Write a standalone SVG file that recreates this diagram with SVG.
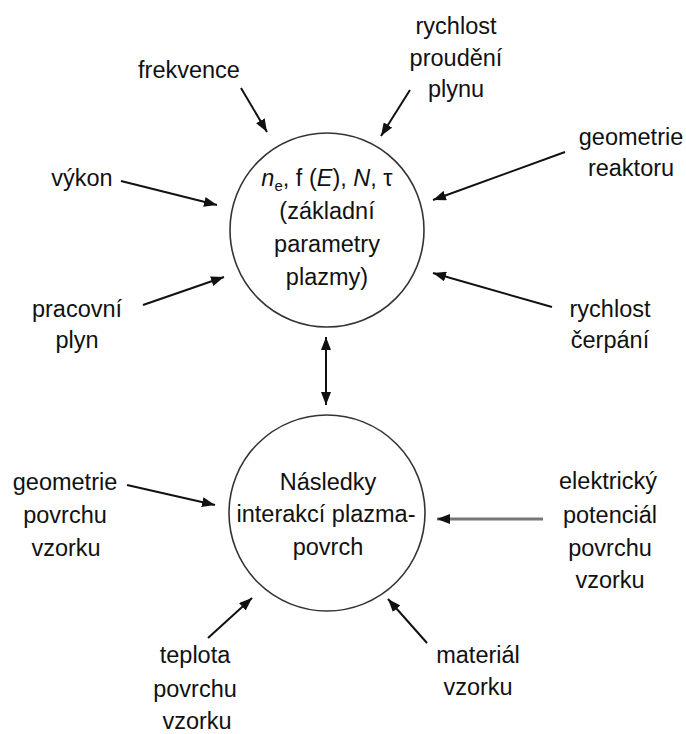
<svg xmlns="http://www.w3.org/2000/svg" width="686" height="734" viewBox="0 0 686 734">
<style>
  .t { font-family: "Liberation Sans", Arial, sans-serif; font-size: 23.5px; fill: #111; text-anchor: middle; }
  .node { fill: #fff; stroke: #333; stroke-width: 1.6; }
  .c { stroke: #111; stroke-width: 2; fill: none; marker-end: url(#ah); }
  .g { stroke: #777; stroke-width: 3; }
  .i { font-style: italic; }
</style>
<defs>
  <marker id="ah" viewBox="0 0 13 10" refX="13" refY="5" markerWidth="13" markerHeight="10" markerUnits="userSpaceOnUse" orient="auto-start-reverse">
    <path d="M0,0 L13,5 L0,10 z" fill="#111"/>
  </marker>
</defs>
<rect width="686" height="734" fill="#fff"/>

<g id="connectors">
  <line class="c" x1="241" y1="88" x2="267" y2="132"/>
  <line class="c" x1="410" y1="90" x2="381" y2="136"/>
  <line class="c" x1="565" y1="152" x2="433" y2="200"/>
  <line class="c" x1="121" y1="181" x2="217" y2="205"/>
  <line class="c" x1="143" y1="305" x2="224" y2="277"/>
  <line class="c" x1="552" y1="307" x2="433" y2="273"/>
  <line class="c" x1="326" y1="337" x2="326" y2="405" marker-start="url(#ah)"/>
  <line class="c" x1="127" y1="485" x2="215" y2="505"/>
  <line class="c g" x1="543" y1="519" x2="437" y2="519"/>
  <line class="c" x1="208" y1="638" x2="252" y2="598"/>
  <line class="c" x1="427" y1="643" x2="388" y2="599"/>
</g>

<g id="plasma-params">
  <circle class="node" cx="327" cy="230" r="97"/>
  <text class="t" x="327" y="186"><tspan class="i">n</tspan><tspan font-size="15" dy="5">e</tspan><tspan dy="-5">, f (</tspan><tspan class="i">E</tspan><tspan>), </tspan><tspan class="i">N</tspan><tspan>, τ</tspan></text>
  <text class="t" x="327" y="219">(základní</text>
  <text class="t" x="327" y="252">parametry</text>
  <text class="t" x="327" y="285">plazmy)</text>
</g>

<g id="consequences">
  <circle class="node" cx="327" cy="513" r="98"/>
  <text class="t" x="328" y="490">Následky</text>
  <text class="t" x="326" y="522">interakcí plazma-</text>
  <text class="t" x="328" y="555">povrch</text>
</g>

<g id="frekvence"><text class="t" x="189" y="78">frekvence</text></g>
<g id="rychlost-proudeni">
  <text class="t" x="456" y="34">rychlost</text>
  <text class="t" x="456" y="66">proudění</text>
  <text class="t" x="456" y="97">plynu</text>
</g>
<g id="geometrie-reaktoru">
  <text class="t" x="631" y="145">geometrie</text>
  <text class="t" x="631" y="176">reaktoru</text>
</g>
<g id="vykon"><text class="t" x="82" y="186">výkon</text></g>
<g id="pracovni-plyn">
  <text class="t" x="77" y="317">pracovní</text>
  <text class="t" x="77" y="348">plyn</text>
</g>
<g id="rychlost-cerpani">
  <text class="t" x="610" y="317">rychlost</text>
  <text class="t" x="610" y="348">čerpání</text>
</g>
<g id="geometrie-povrchu">
  <text class="t" x="65" y="490">geometrie</text>
  <text class="t" x="65" y="523">povrchu</text>
  <text class="t" x="66" y="556">vzorku</text>
</g>
<g id="elektricky-potencial">
  <text class="t" x="608" y="489">elektrický</text>
  <text class="t" x="610" y="523">potenciál</text>
  <text class="t" x="610" y="556">povrchu</text>
  <text class="t" x="610" y="588">vzorku</text>
</g>
<g id="teplota">
  <text class="t" x="195" y="663">teplota</text>
  <text class="t" x="195" y="697">povrchu</text>
  <text class="t" x="197" y="729">vzorku</text>
</g>
<g id="material">
  <text class="t" x="478" y="663">materiál</text>
  <text class="t" x="478" y="695">vzorku</text>
</g>
</svg>
